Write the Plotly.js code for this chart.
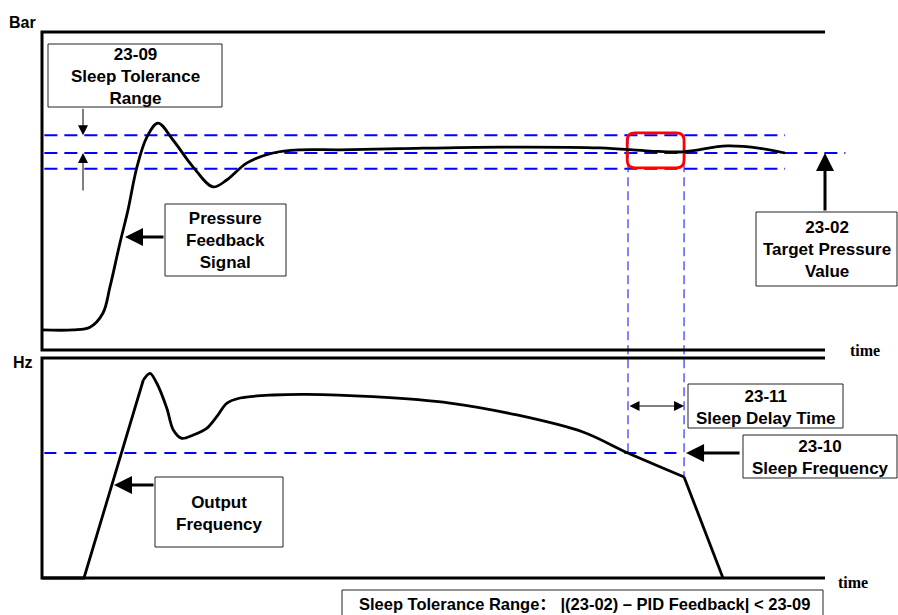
<!DOCTYPE html>
<html><head><meta charset="utf-8">
<script src="https://cdn.plot.ly/plotly-3.0.1.min.js"></script>
<style>html,body{margin:0;padding:0;background:#fff;overflow:hidden}#chart{width:898px;height:615px}</style>
</head><body><div id="chart"></div>
<script>
// ---------------- data ----------------
const pressureTime = [0, 3.96, 6.13, 7.79, 8.68, 9.96, 10.98, 12.13, 13.41, 14.81, 16.73, 19.28, 21.84, 23.63, 26.18, 29.5, 32.95, 38.06, 45.72, 58.49, 71.26, 77.65, 81.86, 87.48, 91.7, 94.89];
const pressureBar  = [0.51, 0.51, 0.58, 0.94, 1.6, 2.72, 3.55, 4.65, 5.41, 5.76, 5.33, 4.65, 4.14, 4.32, 4.75, 5.0, 5.08, 5.08, 5.11, 5.15, 5.13, 5.05, 5.03, 5.18, 5.12, 5.0];
const freqTime = [0, 5.36, 12.94, 13.79, 14.65, 15.93, 16.77, 17.84, 19.32, 21.03, 22.31, 23.59, 25.29, 29.54, 33.81, 42.27, 52.11, 60.66, 69.09, 74.84, 82.0, 86.97];
const freqHz   = [0, 0, 54.1, 55.93, 53.28, 46.45, 40.44, 38.17, 39.07, 40.9, 44.07, 47.73, 49.18, 50.0, 50.19, 49.54, 47.81, 44.54, 39.89, 34.15, 27.6, 0];
const rampEndIndex = 2;      // end of the linear acceleration ramp
const cornerIndex = 20;      // point where the sleep deceleration starts
const targetPressure = 5.0;
const toleranceHigh = 5.45;
const toleranceLow = 4.6;
const sleepStart = 74.84;
const sleepEnd = 82.0;
const sleepFrequency = 34.15;
const timeEnd = 100;
const axisLabels = ['Bar', 'Hz'];
const timeLabel = 'time';

// ---------------- layout geometry ----------------
const W = 898, H = 615;
const X0PX = 42, PX_PER_T = 7.83;
const PBASE_PX = 350, PX_PER_BAR = 39.4;
const FBASE_PX = 578, PX_PER_HZ = 3.66;
const xRange = [-X0PX / PX_PER_T, (W - X0PX) / PX_PER_T];
const yRange = [-(H - PBASE_PX) / PX_PER_BAR, PBASE_PX / PX_PER_BAR];
const y2Range = [-(H - FBASE_PX) / PX_PER_HZ, FBASE_PX / PX_PER_HZ];
const panelTopBar = (PBASE_PX - 32) / PX_PER_BAR;
const panelTopHz = (FBASE_PX - 358) / PX_PER_HZ;
const pFromHz = f => yRange[0] + (f - y2Range[0]) / (y2Range[1] - y2Range[0]) * (yRange[1] - yRange[0]);
const px = x => x / W, py = y => 1 - y / H;

const sans = 'Liberation Sans, Arial, Noto Sans CJK SC, sans-serif';
const boxFont = {family: sans, size: 17, color: '#000', weight: 'bold'};
const BLUE = '#0000ff';

// ---------------- traces ----------------
const traces = [
  {x: pressureTime, y: pressureBar, yaxis: 'y', mode: 'lines', line: {color: '#000', width: 2.8, shape: 'spline', smoothing: 1}, hoverinfo: 'skip'},
  {x: freqTime.slice(0, rampEndIndex + 1), y: freqHz.slice(0, rampEndIndex + 1), yaxis: 'y2', mode: 'lines', line: {color: '#000', width: 2.8}, hoverinfo: 'skip'},
  {x: freqTime.slice(rampEndIndex, cornerIndex + 1), y: freqHz.slice(rampEndIndex, cornerIndex + 1), yaxis: 'y2', mode: 'lines', line: {color: '#000', width: 2.8, shape: 'spline', smoothing: 0.9}, hoverinfo: 'skip'},
  {x: freqTime.slice(cornerIndex), y: freqHz.slice(cornerIndex), yaxis: 'y2', mode: 'lines', line: {color: '#000', width: 2.8}, hoverinfo: 'skip'}
];

// ---------------- shapes ----------------
const shapes = [];
const hdash = {color: BLUE, width: 2, dash: '13px,7px'};
shapes.push({type: 'line', xref: 'x', yref: 'y', x0: 0.3, x1: 94.9, y0: toleranceHigh, y1: toleranceHigh, line: hdash, layer: 'below'});
shapes.push({type: 'line', xref: 'x', yref: 'y', x0: 0.3, x1: 102.6, y0: targetPressure, y1: targetPressure, line: hdash, layer: 'below'});
shapes.push({type: 'line', xref: 'x', yref: 'y', x0: 0.3, x1: 94.9, y0: toleranceLow, y1: toleranceLow, line: hdash, layer: 'below'});
shapes.push({type: 'line', xref: 'x', yref: 'y2', x0: 0.3, x1: sleepEnd, y0: sleepFrequency, y1: sleepFrequency, line: {color: BLUE, width: 1.8, dash: '12px,8px'}, layer: 'below'});
const vdash = {color: '#3030ff', width: 1.2, dash: '9px,5px'};
shapes.push({type: 'line', xref: 'x', yref: 'y', x0: sleepStart, x1: sleepStart, y0: toleranceHigh, y1: pFromHz(sleepFrequency), line: vdash, layer: 'below'});
shapes.push({type: 'line', xref: 'x', yref: 'y', x0: sleepEnd, x1: sleepEnd, y0: toleranceHigh, y1: pFromHz(freqHz[cornerIndex]), line: vdash, layer: 'below'});
// red rounded highlight
(function () {
  const x0 = sleepStart - 0.1, x1 = sleepEnd, yT = toleranceHigh + 0.06, yB = toleranceLow + 0.02, rx = 1.0, ry = 0.2;
  const path = `M${x0 + rx},${yT} L${x1 - rx},${yT} Q${x1},${yT} ${x1},${yT - ry} L${x1},${yB + ry} Q${x1},${yB} ${x1 - rx},${yB} L${x0 + rx},${yB} Q${x0},${yB} ${x0},${yB + ry} L${x0},${yT - ry} Q${x0},${yT} ${x0 + rx},${yT} Z`;
  shapes.push({type: 'path', xref: 'x', yref: 'y', path: path, line: {color: '#ff0000', width: 2.8}, layer: 'below'});
})();
// panel frames
shapes.push({type: 'path', xref: 'x', yref: 'y', path: `M${timeEnd},${panelTopBar} L0,${panelTopBar} L0,0 L${timeEnd},0`, line: {color: '#000', width: 3}});
shapes.push({type: 'path', xref: 'x', yref: 'y2', path: `M${timeEnd},${panelTopHz} L0,${panelTopHz} L0,0 L${timeEnd},0`, line: {color: '#000', width: 3}});
// text boxes
const boxes = [
  [48, 44, 222, 107], [165, 204, 286, 276], [756, 212, 897, 286],
  [155, 477, 283, 547], [688, 384, 843, 428], [743, 435, 897, 478], [342, 590, 823, 625]
];
boxes.forEach(b => shapes.push({type: 'rect', xref: 'paper', yref: 'paper', x0: px(b[0]), x1: px(b[2]), y0: py(b[3]), y1: py(b[1]), line: {color: '#222', width: 1}, fillcolor: '#fff', layer: 'above'}));

// ---------------- annotations ----------------
const ann = [];
function label(x, y, text, font) {
  ann.push({xref: 'paper', yref: 'paper', x: px(x), y: py(y), xanchor: 'center', yanchor: 'middle', showarrow: false, text: text, font: font || boxFont});
}
label(135, 76.5, '23-09<br>Sleep Tolerance<br>Range');
label(225.5, 240, 'Pressure<br>Feedback<br>Signal');
label(826.5, 249, '23-02<br>Target Pressure<br>Value');
label(219, 513, 'Output<br>Frequency');
label(765.5, 407, '23-11<br>Sleep Delay Time');
label(820, 457, '23-10<br>Sleep Frequency');
label(584, 604, 'Sleep Tolerance Range：&nbsp;|(23-02) – PID Feedback| &lt; 23-09', {family: sans, size: 16.5, color: '#000', weight: 'bold'});
label(22, 23, axisLabels[0], {family: sans, size: 16, color: '#000', weight: 'bold'});
label(23, 362, axisLabels[1], {family: sans, size: 16, color: '#000', weight: 'bold'});
const serif = {family: 'Liberation Serif, Times New Roman, serif', size: 16, color: '#000', weight: 'bold'};
label(865, 350, timeLabel, serif);
label(853, 582, timeLabel, serif);

function arrow(o) {
  ann.push(Object.assign({text: '', showarrow: true, arrowcolor: '#000', arrowhead: 2, axref: 'pixel', ayref: 'pixel', standoff: 0}, o));
}
const tArrowX = (83 - X0PX) / PX_PER_T;
arrow({xref: 'x', yref: 'y', x: tArrowX, y: toleranceHigh, ax: 0, ay: -28, arrowwidth: 1, arrowsize: 2});
arrow({xref: 'x', yref: 'y', x: tArrowX, y: targetPressure, ax: 0, ay: 39, arrowwidth: 1, arrowsize: 2});
arrow({xref: 'paper', yref: 'paper', x: px(125), y: py(237), ax: 40, ay: 0, arrowwidth: 3, arrowsize: 1.2});
arrow({xref: 'x', yref: 'y', x: timeEnd, y: targetPressure, ax: 0, ay: 59, arrowwidth: 3, arrowsize: 1.2});
arrow({xref: 'paper', yref: 'paper', x: px(114), y: py(485), ax: 41, ay: 0, arrowwidth: 3, arrowsize: 1.2});
arrow({xref: 'x', yref: 'y2', x: sleepEnd, y: sleepFrequency, ax: 57, ay: 0, arrowwidth: 3, arrowsize: 1.2, standoff: 2});
arrow({xref: 'x', yref: 'paper', x: sleepEnd, y: py(406), axref: 'x', ax: sleepStart, ay: 0, arrowwidth: 1, arrowsize: 2, arrowside: 'end+start'});

const layout = {
  width: W, height: H,
  margin: {l: 0, r: 0, t: 0, b: 0},
  paper_bgcolor: '#fff', plot_bgcolor: '#fff',
  showlegend: false,
  xaxis: {range: xRange, visible: false, fixedrange: true},
  yaxis: {range: yRange, visible: false, fixedrange: true},
  yaxis2: {range: y2Range, visible: false, fixedrange: true, overlaying: 'y'},
  shapes: shapes,
  annotations: ann
};
Plotly.newPlot('chart', traces, layout, {displayModeBar: false, staticPlot: true});
</script></body></html>
